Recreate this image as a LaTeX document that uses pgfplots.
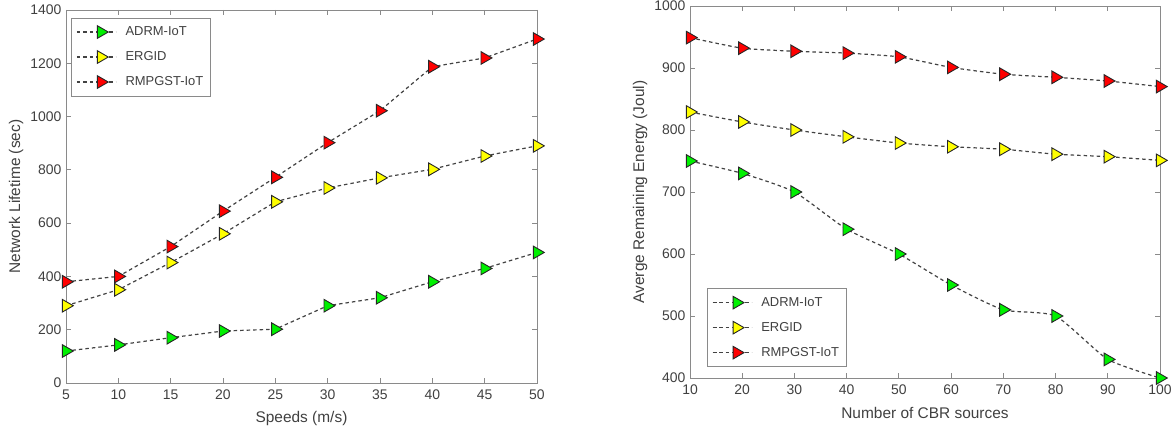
\documentclass[border=0pt]{standalone}
\usepackage{fontspec}
\setmainfont{Liberation Sans}
\usepackage{pgfplots}
\pgfplotsset{compat=1.18}
\definecolor{axgray}{HTML}{8A8A8A}
\definecolor{txtgray}{HTML}{404040}
\definecolor{lngray}{HTML}{424242}
\definecolor{mgreen}{HTML}{00F000}
\definecolor{myellow}{HTML}{FFFF00}
\definecolor{mred}{HTML}{FF0000}

\pgfplotsset{
  panel/.style={
    scale only axis, anchor=south west, clip=false,
    axis line style={axgray, line width=0.9bp},
    tick style={axgray, line width=0.9bp},
    tick align=inside, major tick length=5bp,
    every tick label/.append style={font=\fontsize{14}{16}\selectfont, text=txtgray},
    xticklabel style={yshift=-3bp},
    yticklabel style={xshift=-1bp},
    label style={font=\fontsize{15.5}{18}\selectfont, text=txtgray},
    /pgf/number format/assume math mode=true,
    /pgf/number format/1000 sep={},
    scaled ticks=false,
    legend cell align=left,
    legend style={draw=axgray, fill=white, font=\fontsize{13}{15}\selectfont,
      text=txtgray, row sep=9bp, inner xsep=5bp, inner ysep=6bp,
      nodes={text height=9.5bp, text depth=2.5bp, inner sep=2bp}},
    legend image code/.code={
      \draw[##1, mark repeat=2, mark phase=2] plot coordinates {(0bp,0bp) (24bp,0bp) (39bp,0bp)};
      \path (46bp,0bp);},
  },
  ser/.style={color=lngray, line width=1.2bp, dash pattern=on 3.5bp off 3bp,
    mark=triangle*, mark size=7.3bp,
    mark options={rotate=-90, solid, draw=black!85, line width=0.9bp, fill=#1}},
}

\begin{document}
\begin{tikzpicture}
\useasboundingbox (0,0) rectangle (1176bp,432bp);

\begin{axis}[panel, at={(66bp,49bp)}, width=471bp, height=373bp,
  xmin=5, xmax=50, xtick={5,10,...,50},
  ymin=0, ymax=1400, ytick={0,200,...,1400},
  xlabel={Speeds (m/s)}, ylabel={Network Lifetime (sec)},
  xlabel style={at={(axis description cs:0.5,-0.094)}, anchor=center},
  ylabel style={at={(axis description cs:-0.106,0.5)}, anchor=center},
  legend style={at={(0.011,0.979)}, anchor=north west}]
\addplot+[ser=mgreen] coordinates
  {(5,120)(10,143)(15,170)(20,195)(25,202)(30,290)(35,320)(40,380)(45,430)(50,490)};
\addplot+[ser=myellow] coordinates
  {(5,290)(10,350)(15,452)(20,560)(25,680)(30,732)(35,770)(40,802)(45,852)(50,890)};
\addplot+[ser=mred] coordinates
  {(5,380)(10,400)(15,512)(20,645)(25,772)(30,902)(35,1022)(40,1187)(45,1220)(50,1291)};
\legend{ADRM-IoT,ERGID,RMPGST-IoT}
\end{axis}

\begin{axis}[panel, at={(690bp,54bp)}, width=470bp, height=372bp,
  xmin=10, xmax=100, xtick={10,20,...,100},
  ymin=400, ymax=1000, ytick={400,500,...,1000},
  xlabel={Number of CBR sources}, ylabel={Averge Remaining Energy (Joul)},
  xlabel style={at={(axis description cs:0.5,-0.094)}, anchor=center},
  ylabel style={at={(axis description cs:-0.106,0.5)}, anchor=center},
  legend style={at={(0.036,0.030)}, anchor=south west}]
\addplot+[ser=mgreen, smooth, tension=0.35] coordinates
  {(10,750)(20,730)(30,700)(40,640)(50,600)(60,550)(70,510)(80,500)(90,430)(100,400)};
\addplot+[ser=myellow, smooth, tension=0.35] coordinates
  {(10,829)(20,813)(30,800)(40,789)(50,779)(60,773)(70,769)(80,761)(90,757)(100,751)};
\addplot+[ser=mred, smooth, tension=0.35] coordinates
  {(10,949)(20,932)(30,927)(40,924)(50,918)(60,901)(70,890)(80,885)(90,879)(100,870)};
\legend{ADRM-IoT,ERGID,RMPGST-IoT}
\end{axis}
\end{tikzpicture}
\end{document}
